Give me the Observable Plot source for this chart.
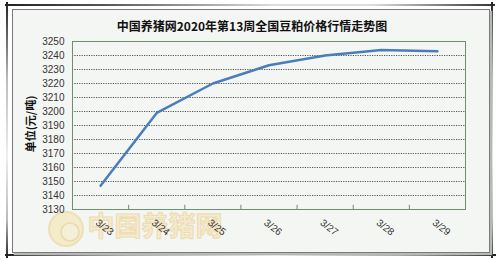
<!DOCTYPE html>
<html>
<head>
<meta charset="utf-8">
<script src="https://cdn.jsdelivr.net/npm/d3@7"></script>
<script src="https://cdn.jsdelivr.net/npm/@observablehq/plot@0.6"></script>
<style>
  html, body { margin: 0; padding: 0; background: #fff; }
  #wrap { position: relative; width: 500px; height: 261px; overflow: hidden; background: #fff; }
  .abs { position: absolute; }
  #panel { left: 12px; top: 9px; width: 476px; height: 242px; border: 1px solid #7a7a7a;
           background: #f4f6f3; box-shadow: 2px 2px 1px #b8b8b8; }
  #title { left: 0; width: 504px; top: 19px; text-align: center; font: bold 12px "Noto Sans CJK SC", sans-serif; color: #111; line-height: 14px; }
  #ylabel { left: 30px; top: 124px; transform: translate(-50%, -50%) rotate(-90deg); white-space: nowrap;
            font: bold 11px "Noto Sans CJK SC", sans-serif; color: #111; }
  #chart { left: 0; top: 0; }
</style>
</head>
<body>
<div id="wrap">
  <div class="abs" style="left:5px;top:4px;width:490px;height:2px;background:linear-gradient(to right,#222 0%,#555 20%,#ddd 55%,#ddd 75%,#333 100%);"></div>
  <div class="abs" style="left:6px;top:2px;width:2px;height:256px;background:linear-gradient(to bottom,#222 0%,#bbb 30%,#eee 60%,#bbb 85%,#222 100%);"></div>
  <div class="abs" style="left:491px;top:2px;width:2px;height:256px;background:linear-gradient(to bottom,#222 0%,#bbb 30%,#eee 60%,#bbb 85%,#222 100%);"></div>
  <div class="abs" style="left:5px;top:254px;width:491px;height:2px;background:linear-gradient(to right,#222 0%,#aaa 25%,#eee 55%,#aaa 80%,#222 100%);"></div>
  <div id="panel" class="abs"></div>
  <svg class="abs" style="left:0;top:0" width="500" height="261">
    <g opacity="0.45">
      <circle cx="66" cy="229" r="17" fill="#f3df9a" stroke="#e9c46a" stroke-width="2"/>
      <circle cx="70" cy="232" r="9" fill="#f6e7b4" stroke="#e2b85a" stroke-width="1.5"/>
      <text x="155" y="236" text-anchor="middle" font-family="Noto Sans CJK SC, sans-serif" font-weight="bold" font-size="27" fill="#f6e3a0" stroke="#e7bd6a" stroke-width="1.2">中国养猪网</text>
    </g>
  </svg>
  <div id="title" class="abs">中国养猪网2020年第13周全国豆粕价格行情走势图</div>
  <div id="ylabel" class="abs">单位(元/吨)</div>
  <div id="chart" class="abs"></div>
</div>
<script>
const dates = ["3/23", "3/24", "3/25", "3/26", "3/27", "3/28", "3/29"];
const prices = [3147, 3199, 3220, 3233, 3240, 3244, 3243];
const yTicks = [3130, 3140, 3150, 3160, 3170, 3180, 3190, 3200, 3210, 3220, 3230, 3240, 3250];

const rows = dates.map((d, i) => ({i, date: d, price: prices[i]}));
const bounds = dates.slice(1).map((d, i) => i + 0.5);

const chart = Plot.plot({
  width: 500,
  height: 261,
  marginLeft: 72,
  marginRight: 35,
  marginTop: 41,
  marginBottom: 52,
  style: {background: "transparent", fontFamily: "Liberation Sans, Arial, sans-serif", color: "#333"},
  x: {domain: [-0.5, dates.length - 0.5], axis: null},
  y: {domain: [3130, 3250], axis: null},
  marks: [
    Plot.ruleY(yTicks.slice(1, -1), {stroke: "#555", strokeDasharray: "1.2,1.2", strokeWidth: 1}),
    Plot.axisY({ticks: yTicks, tickFormat: "d", label: null, tickSize: 0, tickPadding: 8, fontSize: 10, fill: "#333"}),
    Plot.ruleX(bounds, {y1: 3130, y2: 3133, stroke: "#6a8f6a"}),
    Plot.frame({stroke: "#6f8f6f"}),
    Plot.line(rows, {x: "i", y: "price", stroke: "#4a7ebb", strokeWidth: 2.5}),
    Plot.text(rows, {x: "i", y: () => 3130, text: "date", rotate: 38, dx: 4, dy: 18, fontSize: 10, fill: "#333"})
  ]
});
document.getElementById("chart").appendChild(chart);
</script>
</body>
</html>
